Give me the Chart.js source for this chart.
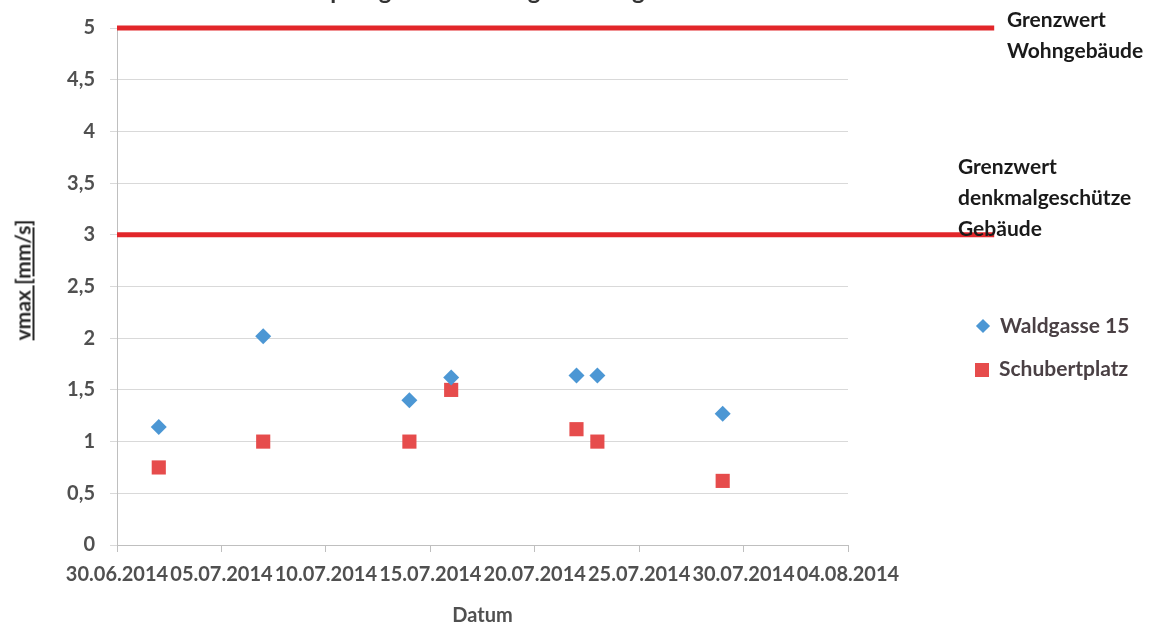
<!DOCTYPE html>
<html>
<head>
<meta charset="utf-8">
<script src="https://cdn.jsdelivr.net/npm/chart.js@4.4.1/dist/chart.umd.min.js"></script>
<style>
    html, body { margin: 0; padding: 0; background: #fff; }
    #wrap { position: relative; width: 1168px; height: 631px; overflow: hidden; font-family: Lato, "Open Sans", sans-serif; }
    #chart { position: absolute; left: 0; top: 0; }
    .note { position: absolute; font-weight: bold; font-size: 21px; line-height: 31px; color: #1a1a1a; white-space: nowrap; }
    #title { position: absolute; left: 0; width: 1075px; text-align: center; top: -23px; font-weight: bold; font-size: 24px; line-height: 26px; color: #333; }
    #ytitle { position: absolute; left: 22px; top: 280px; transform: translate(-50%, -50%) rotate(-90deg); font-weight: bold; font-size: 21px; color: #262626; text-decoration: underline; white-space: nowrap; }
    #legend { position: absolute; left: 975px; top: 312px; font-weight: bold; font-size: 21px; color: #4a4044; }
    .item { height: 43px; display: flex; align-items: flex-start; }
    .mark { display: inline-block; margin-right: 10px; margin-top: 8px; }
</style>
</head>
<body>
<div id="wrap">
    <canvas id="chart" width="1168" height="631"></canvas>
    <div id="title">Sprengerschütterungsmessung vom 2014</div>
    <div id="ytitle">vmax [mm/s]</div>
    <div class="note" style="left:1007px; top:3px;">Grenzwert<br>Wohngebäude</div>
    <div class="note" style="left:958px; top:150px;">Grenzwert<br>denkmalgeschütze<br>Gebäude</div>
    <div id="legend"></div>
</div>
<script>
const dates = ["02.07.2014", "07.07.2014", "14.07.2014", "16.07.2014", "22.07.2014", "23.07.2014", "29.07.2014"];
const waldgasse = [1.14, 2.02, 1.40, 1.62, 1.64, 1.64, 1.27];
const schubertplatz = [0.75, 1.0, 1.0, 1.5, 1.12, 1.0, 0.62];

const xTickLabels = ["30.06.2014", "05.07.2014", "10.07.2014", "15.07.2014", "20.07.2014", "25.07.2014", "30.07.2014", "04.08.2014"];
const limitWohn = 5;
const limitDenkmal = 3;
const limitFrom = "30.06.2014";
const limitTo = "11.08.2014";

const seriesNames = ["Waldgasse 15", "Schubertplatz"];
const blue = "#4c97d4";
const red = "#e64c4c";
const limitRed = "#e2262a";

function dayIndex(s) {
    const p = s.split(".");
    const start = Date.UTC(2014, 5, 30);
    return (Date.UTC(+p[2], +p[1] - 1, +p[0]) - start) / 86400000;
}

function points(values) {
    return dates.map((d, i) => ({ x: dayIndex(d), y: values[i] }));
}

function limitLine(v) {
    return [{ x: dayIndex(limitFrom), y: v }, { x: dayIndex(limitTo), y: v }];
}

const tickFont = { family: "Lato", size: 20, weight: "bold" };

const chart = new Chart(document.getElementById("chart").getContext("2d"), {
    type: "scatter",
    data: {
        datasets: [
            {
                label: seriesNames[0],
                data: points(waldgasse),
                pointStyle: "rectRot",
                pointRadius: 8,
                backgroundColor: blue,
                borderColor: blue,
                borderWidth: 0
            },
            {
                label: seriesNames[1],
                data: points(schubertplatz),
                pointStyle: "rect",
                pointRadius: 10,
                backgroundColor: red,
                borderColor: red,
                borderWidth: 0
            },
            {
                label: "Grenzwert Wohngebäude",
                data: limitLine(limitWohn),
                showLine: true,
                borderColor: limitRed,
                borderWidth: 5,
                pointRadius: 0,
                clip: false
            },
            {
                label: "Grenzwert denkmalgeschütze Gebäude",
                data: limitLine(limitDenkmal),
                showLine: true,
                borderColor: limitRed,
                borderWidth: 5,
                pointRadius: 0,
                clip: false
            }
        ]
    },
    options: {
        responsive: false,
        animation: false,
        layout: { padding: { top: 28, right: 320, left: 0, bottom: 0 } },
        plugins: {
            legend: { display: false },
            tooltip: { enabled: false }
        },
        scales: {
            x: {
                type: "linear",
                min: 0,
                max: 35,
                afterFit: s => { s.height = 86; },
                ticks: {
                    stepSize: 5,
                    autoSkip: false,
                    maxRotation: 0,
                    padding: 11,
                    color: "#505050",
                    font: tickFont,
                    callback: v => xTickLabels[Math.round(v / 5)]
                },
                grid: { drawOnChartArea: false, tickLength: 7, color: "#bfbfbf" },
                border: { color: "#bfbfbf" },
                title: {
                    display: true,
                    text: "Datum",
                    color: "#505050",
                    font: { family: "Lato", size: 20, weight: "bold" },
                    padding: { top: 0, bottom: 3 }
                }
            },
            y: {
                min: 0,
                max: 5,
                afterFit: s => { s.width = 117; },
                ticks: {
                    stepSize: 0.5,
                    padding: 15,
                    color: "#505050",
                    font: tickFont,
                    callback: v => String(v).replace(".", ",")
                },
                grid: { color: "#d9d9d9", tickLength: 7 },
                border: { color: "#bfbfbf" }
            }
        }
    }
});

// legend from the two measuring points
const legend = document.getElementById("legend");
seriesNames.forEach((name, i) => {
    const item = document.createElement("div");
    item.className = "item";
    const mark = document.createElement("span");
    mark.className = "mark";
    if (i === 0) {
        mark.style.cssText = "width:10px;height:10px;background:" + blue + ";transform:rotate(45deg);margin-left:3px;margin-right:12px;margin-top:9px;";
    } else {
        mark.style.cssText = "width:14px;height:14px;background:" + red + ";";
    }
    item.appendChild(mark);
    item.appendChild(document.createTextNode(name));
    legend.appendChild(item);
});
</script>
</body>
</html>
